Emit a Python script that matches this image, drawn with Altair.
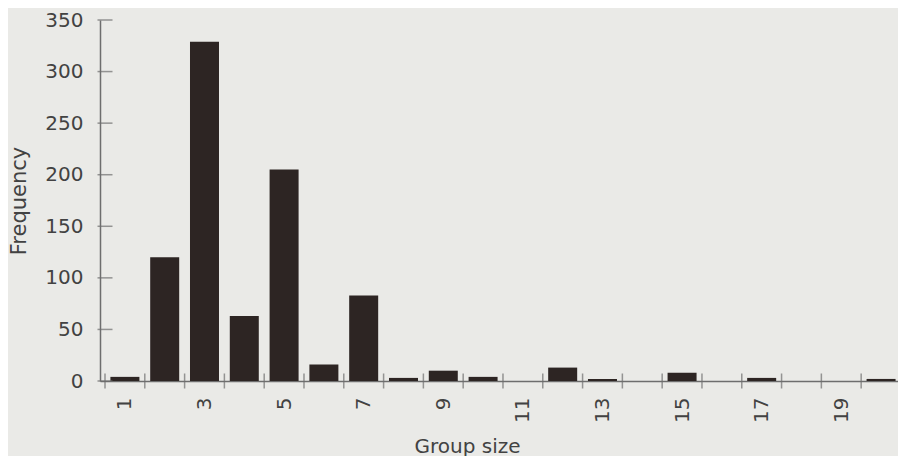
import altair as alt
import pandas as pd

# Data
group_size = list(range(1, 21))
frequency = [4, 120, 329, 63, 205, 16, 83, 3, 10, 4, 0, 13, 2, 0, 8, 0, 3, 0, 0, 2]
x_tick_labels = [1, 3, 5, 7, 9, 11, 13, 15, 17, 19]
y_tick_values = [0, 50, 100, 150, 200, 250, 300, 350]
bin_edges = [i + 0.5 for i in range(0, 20)]

bars_df = pd.DataFrame({"size": group_size, "freq": frequency})
bars_df = bars_df[bars_df["freq"] > 0]
edges_df = pd.DataFrame({"size": bin_edges, "freq": [0] * len(bin_edges)})
yt_df = pd.DataFrame({"size": [0.5] * len(y_tick_values), "freq": y_tick_values})

FONT = "DejaVu Sans"
AXIS_COL = "#6e6e6e"
TEXT_COL = "#424242"
BAR_COL = "#2d2523"

x_scale = alt.Scale(domain=[0.5, 20.3], nice=False, zero=False)
y_scale = alt.Scale(domain=[0, 350], nice=False)

x_axis = alt.Axis(
    values=x_tick_labels, labelAngle=270, ticks=False, tickSize=0, grid=False,
    labelPadding=16, labelFontSize=20, labelFont=FONT, labelColor=TEXT_COL,
    domainColor=AXIS_COL, domainWidth=1.5, titleFont=FONT, titleFontSize=20,
    titleFontWeight="normal", titleColor=TEXT_COL,
    titleX=367, titleY=71, titleAlign="center", titleBaseline="alphabetic",
    labelAlign="right", labelBaseline="middle",
)
y_axis = alt.Axis(
    values=y_tick_values, ticks=False, tickSize=0, grid=False,
    labelPadding=17, labelFontSize=20, labelFont=FONT, labelColor=TEXT_COL,
    domainColor=AXIS_COL, domainWidth=1.5, titleFont=FONT, titleFontSize=21,
    titleFontWeight="normal", titleColor=TEXT_COL, titlePadding=15,
)

def X():
    return alt.X("size:Q", scale=x_scale, axis=x_axis, title="Group size")

def Y():
    return alt.Y("freq:Q", scale=y_scale, axis=y_axis, title="Frequency")

bars = alt.Chart(bars_df).mark_bar(color=BAR_COL, size=29, clip=True).encode(x=X(), y=Y())
xticks = alt.Chart(edges_df).mark_tick(orient="vertical", size=15, thickness=1.5, color=AXIS_COL).encode(x=X(), y=Y())
yticks = alt.Chart(yt_df).mark_tick(orient="horizontal", size=15, thickness=1.5, color=AXIS_COL).encode(x=X(), y=Y())

chart = alt.layer(bars, xticks, yticks).properties(
    width=798, height=361,
    autosize=alt.AutoSizeParams(type="none"),
    padding={"left": 92, "top": 12, "right": 0, "bottom": 75},
    background="#eaeae7",
).configure_view(stroke=None)

chart.save("out.html", embed_options={"renderer": "svg", "actions": False})
